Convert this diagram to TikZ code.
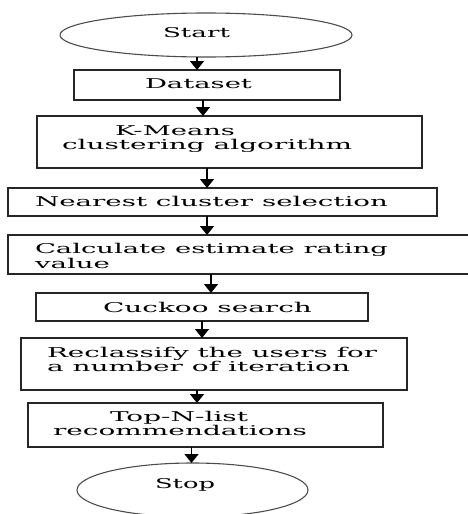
\documentclass[tikz,border=0pt]{standalone}
\usepackage{fontspec}
\setmainfont{DejaVu Serif}
\usetikzlibrary{shapes.geometric,arrows.meta}
\newcommand{\tw}[2]{\resizebox{#1pt}{\height}{#2}}
\tikzset{
 boxnode/.style={draw=black!85, line width=1.4pt, rectangle, inner sep=0pt, outer sep=0pt},
 ovalnode/.style={draw=black!70, line width=1.1pt, ellipse, inner sep=0pt, outer sep=0pt},
 txt/.style={anchor=base west, inner sep=0pt, outer sep=0pt, text=black, font=\fontsize{13.5pt}{16pt}\selectfont},
 flow/.style={line width=1.6pt, -{Triangle[width=14pt,length=9pt]}}
}
\begin{document}
\begin{tikzpicture}[x=1pt,y=-1pt]
\useasboundingbox (0,0) rectangle (468,514);
% shapes
\node[ovalnode, minimum width=292pt, minimum height=44pt] (start) at (206,35) {};
\node[boxnode, minimum width=266pt, minimum height=30pt] (dataset) at (207,85) {};
\node[boxnode, minimum width=385pt, minimum height=52pt] (kmeans) at (229.5,142) {};
\node[boxnode, minimum width=429pt, minimum height=28pt] (nearest) at (222.5,202) {};
\node[boxnode, minimum width=467pt, minimum height=39pt] (calc) at (241.5,254.5) {};
\node[boxnode, minimum width=332pt, minimum height=28pt] (cuckoo) at (202,307) {};
\node[boxnode, minimum width=386pt, minimum height=52pt] (reclass) at (214,364) {};
\node[boxnode, minimum width=355pt, minimum height=44pt] (topn) at (205.5,425) {};
\node[ovalnode, minimum width=231pt, minimum height=54pt] (stop) at (192.5,490) {};
% texts
\node[txt] (t1) at (163,37) {\tw{67}{Start}};
\node[txt] (t2) at (145,88) {\tw{107}{Dataset}};
\node[txt] (t3) at (115,135) {\tw{120}{K-Means}};
\node[txt] (t4) at (62,149) {\tw{290}{clustering algorithm}};
\node[txt] (t5) at (35,206) {\tw{353}{Nearest cluster selection}};
\node[txt] (t6) at (35,253) {\tw{353}{Calculate estimate rating}};
\node[txt] (t7) at (35,268) {\tw{75}{value}};
\node[txt] (t8) at (103,312) {\tw{209}{Cuckoo search}};
\node[txt] (t9) at (47,357) {\tw{330}{Reclassify the users for}};
\node[txt] (t10) at (47,371) {\tw{303}{a number of iteration}};
\node[txt] (t11) at (110,421.5) {\tw{138}{Top-N-list}};
\node[txt] (t12) at (53,435.5) {\tw{254}{recommendations}};
\node[txt] (t13) at (155,488) {\tw{60}{Stop}};
% connectors
\draw[flow] (start.south -| 197,0) -- (dataset.north -| 197,0);
\draw[flow] (dataset.south -| 203,0) -- (kmeans.north -| 203,0);
\draw[flow] (kmeans.south -| 207,0) -- (nearest.north -| 207,0);
\draw[flow] (nearest.south -| 207,0) -- (calc.north -| 207,0);
\draw[flow] (calc.south -| 211,0) -- (cuckoo.north -| 211,0);
\draw[flow] (cuckoo.south -| 202,0) -- (reclass.north -| 202,0);
\draw[flow] (reclass.south -| 197,0) -- (topn.north -| 197,0);
\draw[flow] (topn.south -| 191.5,0) -- (stop.north -| 191.5,0);
\end{tikzpicture}
\end{document}
